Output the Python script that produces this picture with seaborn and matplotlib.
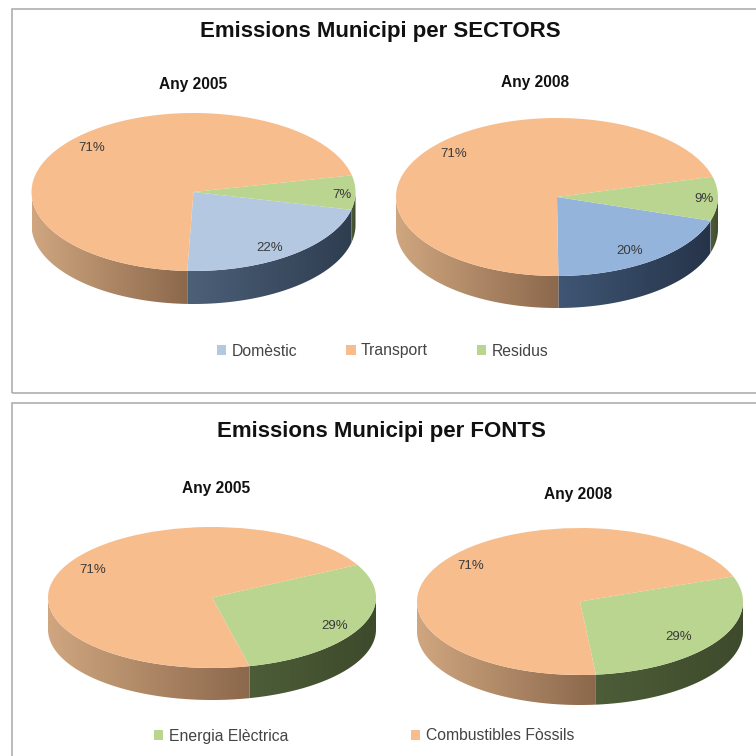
import numpy as np
import matplotlib
matplotlib.use("Agg")
import matplotlib.pyplot as plt
from matplotlib.colors import LinearSegmentedColormap
from matplotlib.patches import Patch, Polygon, Rectangle
import seaborn as sns

sectors = ["Domèstic", "Transport", "Residus"]
sectors_2005 = [22, 71, 7]
sectors_2008 = [20, 71, 9]
fonts = ["Energia Elèctrica", "Combustibles Fòssils"]
fonts_2005 = [29, 71]
fonts_2008 = [29, 71]

ORANGE = "#F8BD8C"
GREEN = "#BAD58F"
BLUE_A = "#B5C8E2"
BLUE_B = "#95B4DC"
SIDE = {
    ORANGE: ("#CFA67F", "#8C684C"),
    GREEN: ("#4D5D38", "#3E4A2C"),
    BLUE_A: ("#4C6078", "#2F3D50"),
    BLUE_B: ("#3F5674", "#26344A"),
}

sns.set_theme(style="white")
plt.rcParams["font.family"] = ["Liberation Sans", "DejaVu Sans"]

W = H = 756
fig = plt.figure(figsize=(7.56, 7.56), dpi=100, facecolor="white")


def fx(x):
    return x / W


def fy(y):
    return 1 - y / H


def panel(top, bottom):
    fig.add_artist(Rectangle((fx(12), fy(bottom)), (W + 20 - 12) / W, (bottom - top) / H,
                             transform=fig.transFigure, fill=False,
                             edgecolor="#A8A8A8", linewidth=1.1))


def pie3d(values, colors, cx, cy, rx, ry, depth, start, labels_px):
    ax = fig.add_axes([fx(cx - rx), fy(cy + ry + depth), 2 * rx / W, (2 * ry + depth) / H])
    ax.patch.set_alpha(0)
    wedges, _ = ax.pie(values, colors=colors, startangle=start, counterclock=False,
                       radius=1, wedgeprops={"linewidth": 0, "zorder": 3})
    ax.set_aspect("auto")
    d = depth / ry
    for w, c in zip(wedges, colors):
        a, b = w.theta1 % 360, w.theta2 % 360
        if b <= a:
            b += 360
        spans = []
        for lo, hi in [(180, 360), (540, 720)]:
            s, e = max(a, lo), min(b, hi)
            if e > s:
                spans.append((s, e))
        for s, e in spans:
            t = np.radians(np.linspace(s, e, 120))
            xs, ys = np.cos(t), np.sin(t)
            verts = np.r_[np.c_[xs, ys], np.c_[xs[::-1], ys[::-1] - d]]
            poly = Polygon(verts, closed=True, transform=ax.transData, facecolor="none", edgecolor="none")
            ax.add_patch(poly)
            cmap = LinearSegmentedColormap.from_list("s", SIDE[c])
            im = ax.imshow(np.linspace(0, 1, 128)[None, :], cmap=cmap, aspect="auto", zorder=2,
                           extent=(xs.min(), xs.max(), -1 - d, 1))
            im.set_clip_path(poly)
    ax.set_xlim(-1, 1)
    ax.set_ylim(-1 - d, 1)
    ax.axis("off")
    for v, (lx, ly) in zip(values, labels_px):
        fig.text(fx(lx), fy(ly), f"{v}%", ha="center", va="center", fontsize=9.5, color="#3A3A3A")


def legend(names, colors, anchor_x, anchor_y, spacing):
    handles = [Patch(facecolor=c, edgecolor="none", label=n) for n, c in zip(names, colors)]
    fig.legend(handles=handles, ncols=len(names), loc="center left",
               bbox_to_anchor=(fx(anchor_x), fy(anchor_y)), frameon=False,
               fontsize=11.3, labelcolor="#444444", handlelength=0.6, handleheight=0.6,
               handletextpad=0.35, columnspacing=spacing, borderpad=0, borderaxespad=0)


panel(9, 393)
panel(403, 790)

fig.text(fx(380), fy(32), "Emissions Municipi per SECTORS", ha="center", va="center",
         fontsize=16, fontweight="bold", color="#111111")
fig.text(fx(381), fy(431), "Emissions Municipi per FONTS", ha="center", va="center",
         fontsize=16, fontweight="bold", color="#111111")
for x, y, s in [(193, 84, "Any 2005"), (535, 83, "Any 2008"), (216, 488, "Any 2005"), (578, 495, "Any 2008")]:
    fig.text(fx(x), fy(y), s, ha="center", va="center", fontsize=11.2, fontweight="bold", color="#111111")

pie3d(sectors_2005, [BLUE_A, ORANGE, GREEN], 193.5, 192, 162, 79, 33, -13,
      [(270, 248), (92, 148), (342, 195)])
pie3d(sectors_2008, [BLUE_B, ORANGE, GREEN], 557, 197, 161, 79, 32, -17.5,
      [(630, 251), (454, 154), (704, 199)])
pie3d(fonts_2005, [GREEN, ORANGE], 212, 597.5, 164, 70.5, 32, 27.6,
      [(335, 626), (93, 570)])
pie3d(fonts_2008, [GREEN, ORANGE], 580, 601.5, 163, 73.5, 30, 20,
      [(679, 637), (471, 566)])

legend(sectors, [BLUE_A, ORANGE, GREEN], 217, 351, 3.1)
legend(fonts, [GREEN, ORANGE], 154, 736, 7.8)

fig.savefig("out.png", dpi=100)
